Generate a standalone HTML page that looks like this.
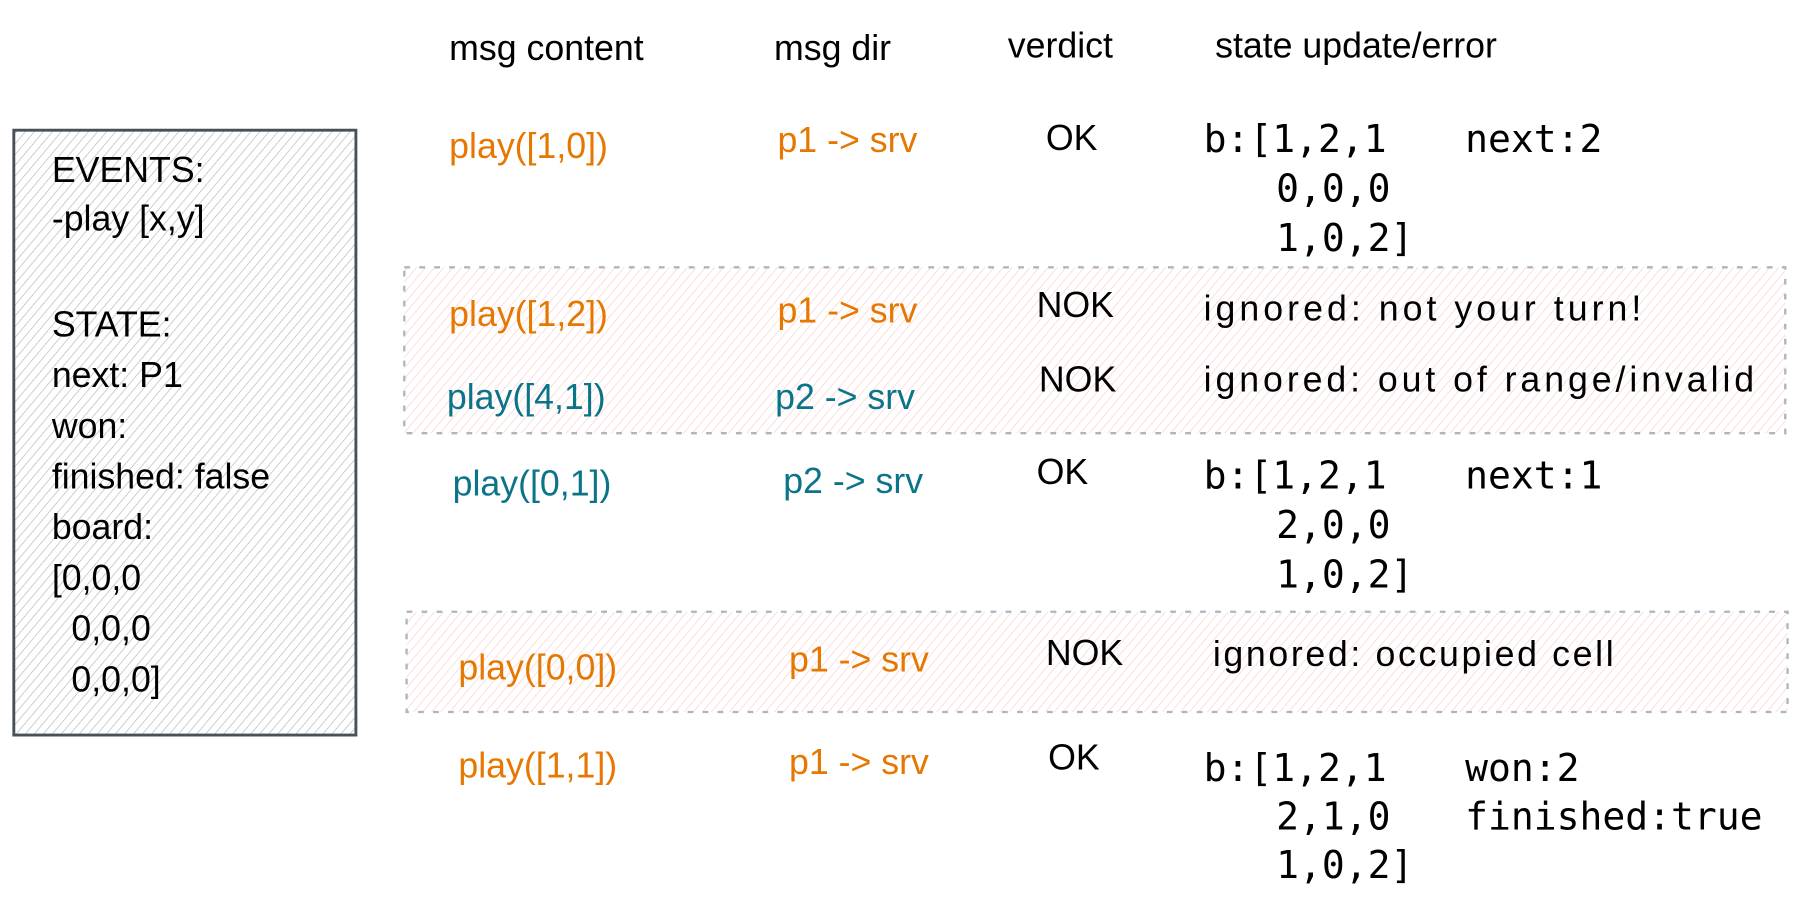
<!DOCTYPE html>
<html><head><meta charset="utf-8"><style>html,body{margin:0;padding:0;background:#fff}svg{display:block}</style></head>
<body>
<svg width="1806" height="924" viewBox="0 0 1568 802" preserveAspectRatio="none" xmlns="http://www.w3.org/2000/svg">
<defs>
<pattern id="g" width="6" height="6" patternUnits="userSpaceOnUse" patternTransform="rotate(40)"><line x1="0" y1="0" x2="0" y2="6" stroke="#adb5bd" stroke-width="1.1"/></pattern>
<pattern id="r" width="6" height="6" patternUnits="userSpaceOnUse" patternTransform="rotate(40)"><line x1="0" y1="0" x2="0" y2="6" stroke="#ffc9c9" stroke-width="1.1"/></pattern>
</defs>
<rect x="12" y="113" width="297" height="525" fill="url(#g)" stroke="#495057" stroke-width="2.5"/>
<rect x="351" y="232" width="1199" height="144" fill="url(#r)" stroke="#adb5bd" stroke-width="2" stroke-dasharray="5 8"/>
<rect x="353" y="531" width="1199" height="87" fill="url(#r)" stroke="#adb5bd" stroke-width="2" stroke-dasharray="5 8"/>
<g font-family="Liberation Sans, sans-serif" font-size="31" fill="#000">
<text x="390" y="52">msg content</text>
<text x="672" y="52">msg dir</text>
<text x="875" y="50">verdict</text>
<text x="1055" y="50">state update/error</text>
</g>
<g font-family="Liberation Sans, sans-serif" font-size="31" fill="#000">
<text x="45" y="158">EVENTS:</text>
<text x="45" y="200">-play [x,y]</text>
<text x="45" y="292">STATE:</text>
<text x="45" y="336">next: P1</text>
<text x="45" y="380">won:</text>
<text x="45" y="424">finished: false</text>
<text x="45" y="468">board:</text>
<text x="45" y="512">[0,0,0</text>
<text x="62" y="556">0,0,0</text>
<text x="62" y="600">0,0,0]</text>
</g>
<g font-family="Liberation Sans, sans-serif" font-size="31">
<g fill="#e67700">
<text x="390" y="137">play([1,0])</text><text x="675" y="132">p1 -&gt; srv</text>
<text x="390" y="283">play([1,2])</text><text x="675" y="280">p1 -&gt; srv</text>
<text x="398" y="590">play([0,0])</text><text x="685" y="583">p1 -&gt; srv</text>
<text x="398" y="675">play([1,1])</text><text x="685" y="672">p1 -&gt; srv</text>
</g>
<g fill="#0c7489">
<text x="388" y="355">play([4,1])</text><text x="673" y="355">p2 -&gt; srv</text>
<text x="393" y="430">play([0,1])</text><text x="680" y="428">p2 -&gt; srv</text>
</g>
<g fill="#000">
<text x="908" y="130">OK</text>
<text x="900" y="275">NOK</text>
<text x="902" y="340">NOK</text>
<text x="900" y="420">OK</text>
<text x="908" y="577">NOK</text>
<text x="910" y="668">OK</text>
<text x="1045" y="278" textLength="380">ignored: not your turn!</text>
<text x="1045" y="340" textLength="478">ignored: out of range/invalid</text>
<text x="1053" y="578" textLength="348">ignored: occupied cell</text>
</g>
</g>
<g font-family="DejaVu Sans Mono, Liberation Mono, monospace" font-size="33" fill="#000">
<text x="1045" y="132">b:[1,2,1</text><text x="1272" y="132">next:2</text>
<text x="1108" y="175">0,0,0</text>
<text x="1108" y="218">1,0,2]</text>
<text x="1045" y="424">b:[1,2,1</text><text x="1272" y="424">next:1</text>
<text x="1108" y="467">2,0,0</text>
<text x="1108" y="510">1,0,2]</text>
<text x="1045" y="678">b:[1,2,1</text><text x="1272" y="678">won:2</text>
<text x="1108" y="720">2,1,0</text><text x="1272" y="720">finished:true</text>
<text x="1108" y="762">1,0,2]</text>
</g>
</svg>
</body></html>
